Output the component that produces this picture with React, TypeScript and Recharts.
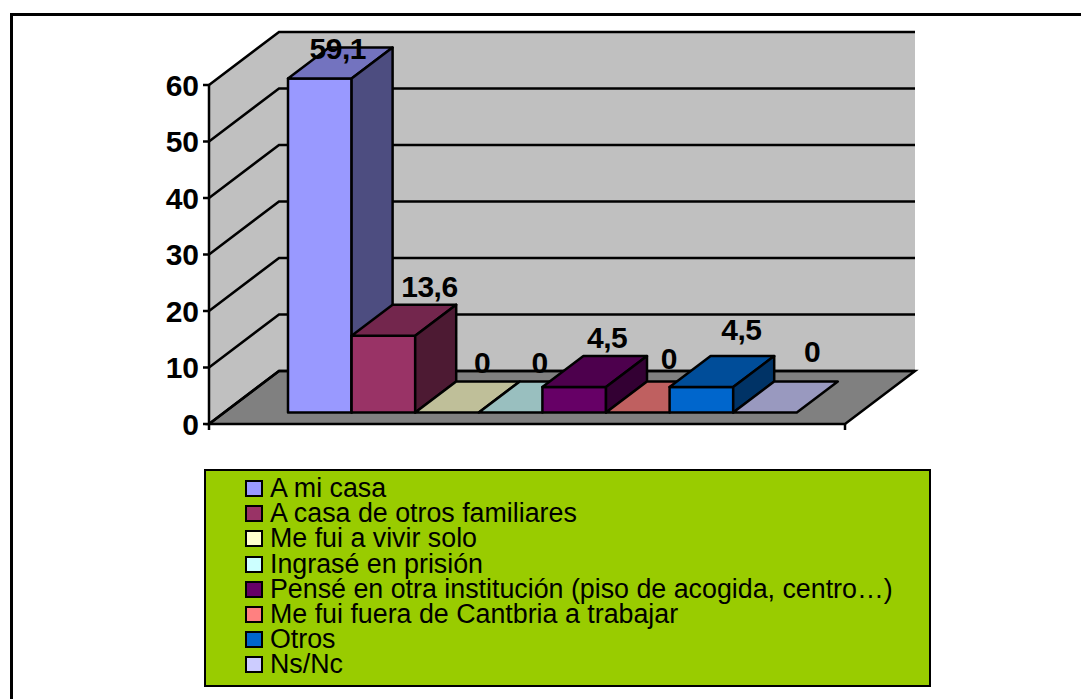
import { BarChart, Bar, XAxis, YAxis, Legend, LabelList, ReferenceArea } from "recharts"

const categories = ["Destino"]
const seriesNames = [
  "A mi casa",
  "A casa de otros familiares",
  "Me fui a vivir solo",
  "Ingrasé en prisión",
  "Pensé en otra institución (piso de acogida, centro…)",
  "Me fui fuera de Cantbria a trabajar",
  "Otros",
  "Ns/Nc",
]
const seriesValues = [59.1, 13.6, 0, 0, 4.5, 0, 4.5, 0]
const seriesColors = ["#9999FF", "#993366", "#FFFFCC", "#CCFFFF", "#660066", "#FF8080", "#0066CC", "#CCCCFF"]
const yTicks = [0, 10, 20, 30, 40, 50, 60]

// labels were dragged by hand in the original, so each one has its own nudge
const labelNudges = [
  [18, -20],
  [46, -39],
  [35, -40],
  [29, -40],
  [33, -39],
  [31, -44],
  [40, -47],
  [47, -51],
]

const FONT = "'Liberation Sans', Arial, sans-serif"
const LINE = 2.5
const WALL = { dx: 70, dy: -53 }
const BAR_DEPTH = { dx: 41, dy: -31 }
const BAR_SHIFT = { dx: 15, dy: -11.5 }

const chartData = categories.map((name) => {
  const row: Record<string, string | number> = { name }
  seriesNames.forEach((s, i) => {
    row[s] = seriesValues[i]
  })
  return row
})

const shade = (hex: string, k: number) => {
  const n = parseInt(hex.slice(1), 16)
  const part = (v: number) => Math.round(v * k).toString(16).padStart(2, "0")
  return `#${part((n >> 16) & 255)}${part((n >> 8) & 255)}${part(n & 255)}`
}

const pts = (list: number[][]) => list.map((p) => p.join(",")).join(" ")

// back wall, side wall, floor and gridlines, all hung off the plot rectangle
const Walls = ({ x, y, width, height }: any) => {
  const left = x
  const right = x + width
  const bottom = y + height
  const { dx, dy } = WALL
  const tickY = (t: number) => bottom - (height * t) / yTicks[yTicks.length - 1]
  return (
    <g stroke="#000" strokeWidth={LINE}>
      <polygon
        points={pts([[left + dx, y + dy], [right + dx, y + dy], [right + dx, bottom + dy], [left + dx, bottom + dy]])}
        fill="#C0C0C0"
        stroke="none"
      />
      <polygon
        points={pts([[left, y], [left + dx, y + dy], [left + dx, bottom + dy], [left, bottom]])}
        fill="#C0C0C0"
        stroke="none"
      />
      <polygon
        points={pts([[left, bottom], [right, bottom], [right + dx, bottom + dy], [left + dx, bottom + dy]])}
        fill="#808080"
      />
      {yTicks.map((t) => (
        <polyline
          key={t}
          points={pts([[left, tickY(t)], [left + dx, tickY(t) + dy], [right + dx, tickY(t) + dy]])}
          fill="none"
        />
      ))}
      <line x1={left} y1={bottom} x2={left} y2={bottom + 6} />
      <line x1={right} y1={bottom} x2={right} y2={bottom + 6} />
    </g>
  )
}

const Bar3D = ({ x, y, width, height, fill }: any) => {
  const { dx, dy } = BAR_DEPTH
  const l = x + BAR_SHIFT.dx
  const r = l + width
  const t = y + BAR_SHIFT.dy
  const b = t + height
  return (
    <g stroke="#000" strokeWidth={LINE} strokeLinejoin="round">
      {height > 0 && <rect x={l} y={t} width={width} height={height} fill={fill} />}
      <polygon points={pts([[l, t], [r, t], [r + dx, t + dy], [l + dx, t + dy]])} fill={shade(fill, 0.75)} />
      {height > 0 && <polygon points={pts([[r, t], [r + dx, t + dy], [r + dx, b + dy], [r, b]])} fill={shade(fill, 0.5)} />}
    </g>
  )
}

const barLabel = (i: number) => (props: any) => {
  const { x, y, width, value } = props
  return (
    <text
      x={x + width / 2 + BAR_SHIFT.dx + labelNudges[i][0]}
      y={y + BAR_SHIFT.dy + labelNudges[i][1]}
      textAnchor="middle"
      fontFamily={FONT}
      fontWeight="bold"
      fontSize={30}
      letterSpacing={-0.5}
      fill="#000"
    >
      {String(value).replace(".", ",")}
    </text>
  )
}

const LegendBox = ({ payload }: any) => (
  <div
    style={{
      boxSizing: "border-box",
      width: 727,
      height: 218,
      background: "#99CC00",
      border: "2.5px solid #000",
      padding: "5px 0 0 39px",
      fontFamily: FONT,
      fontSize: 26.8,
      lineHeight: "25.2px",
      color: "#000",
    }}
  >
    {(payload || []).map((item: any) => (
      <div key={item.value} style={{ display: "flex", alignItems: "center", height: 25.2, whiteSpace: "nowrap" }}>
        <span
          style={{
            boxSizing: "border-box",
            width: 18,
            height: 17,
            marginRight: 7,
            background: item.color,
            border: "2.5px solid #000",
          }}
        />
        {item.value}
      </div>
    ))}
  </div>
)

export default function App() {
  return (
    <div style={{ position: "absolute", left: 0, top: 0, width: 1081, height: 699, overflow: "hidden", background: "#fff" }}>
      <div
        style={{
          position: "absolute",
          left: 10,
          top: 13,
          width: 1100,
          height: 720,
          borderLeft: "3px solid #000",
          borderTop: "3px solid #000",
        }}
      />
      <div style={{ position: "absolute", left: 0, top: 0 }}>
        <BarChart
          width={1081}
          height={699}
          data={chartData}
          margin={{ top: 85, right: 236, bottom: 275, left: 0 }}
          barSize={63.6}
          barGap={0}
        >
          <ReferenceArea y1={0} y2={60} shape={Walls} />
          <XAxis dataKey="name" height={0} tick={false} tickLine={false} axisLine={{ stroke: "#000", strokeWidth: LINE }} />
          <YAxis
            width={209}
            domain={[0, 60]}
            ticks={yTicks}
            interval={0}
            tickSize={6}
            tickMargin={4}
            axisLine={{ stroke: "#000", strokeWidth: LINE }}
            tickLine={{ stroke: "#000", strokeWidth: LINE }}
            tick={{ fill: "#000", fontFamily: FONT, fontWeight: "bold", fontSize: 30 }}
          />
          <Legend
            layout="vertical"
            align="center"
            verticalAlign="middle"
            itemSorter={null}
            content={LegendBox}
            wrapperStyle={{ left: 204, top: 469, width: 727, height: 218 }}
          />
          {seriesNames.map((s, i) => (
            <Bar key={s} dataKey={s} fill={seriesColors[i]} shape={Bar3D} isAnimationActive={false}>
              <LabelList dataKey={s} content={barLabel(i)} />
            </Bar>
          ))}
        </BarChart>
      </div>
    </div>
  )
}
